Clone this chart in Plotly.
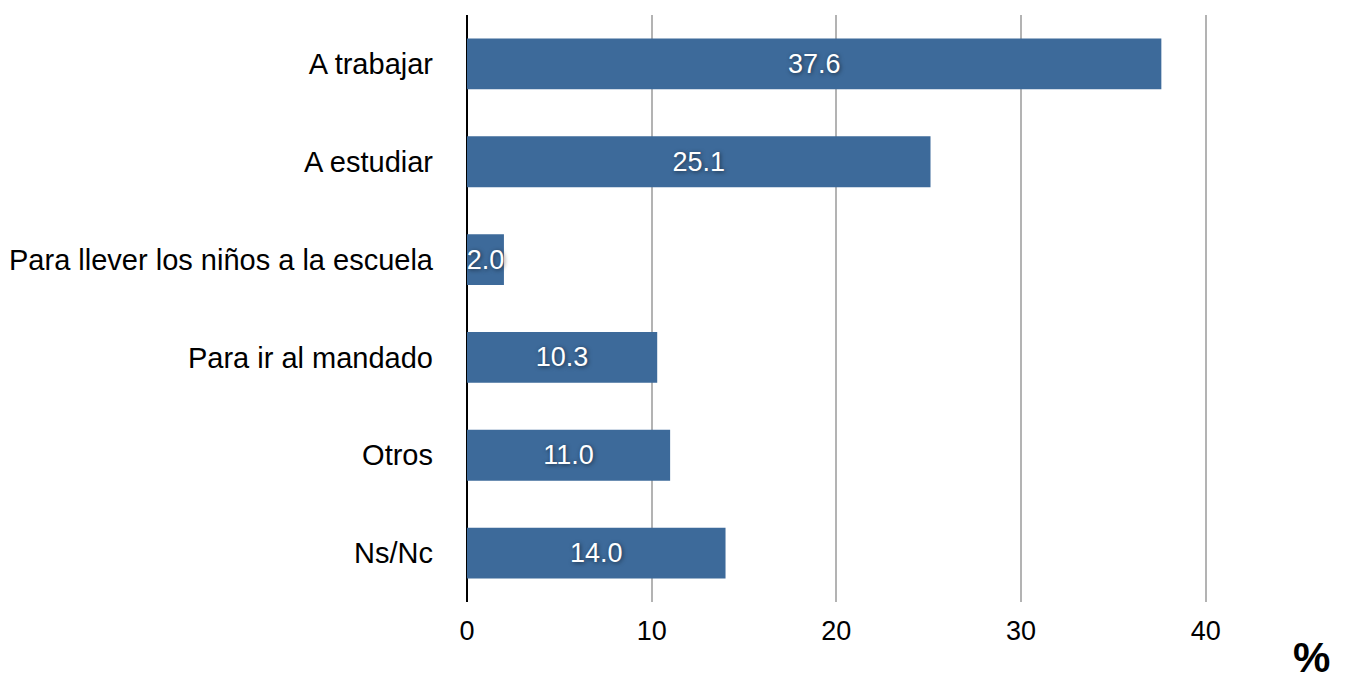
import plotly.graph_objects as go

# Reasons for the trip, top to bottom as shown
categories = ["A trabajar", "A estudiar", "Para llever los niños a la escuela",
              "Para ir al mandado", "Otros", "Ns/Nc"]
values = [37.6, 25.1, 2.0, 10.3, 11.0, 14.0]
x_ticks = [0, 10, 20, 30, 40]

BAR_COLOR = "#3D6A9A"
FONT = "Liberation Sans, Arial, Helvetica, sans-serif"

fig = go.Figure(
    go.Bar(
        x=values,
        y=categories,
        orientation="h",
        marker=dict(color=BAR_COLOR, line=dict(width=0)),
        width=0.52,
        text=[f"{v:.1f}" for v in values],
        textposition="inside",
        insidetextanchor="middle",
        textangle=0,
        constraintext="none",
        textfont=dict(color="white", size=27, family=FONT,
                      shadow="1px 1px 4px rgba(0,0,0,0.55)"),
        hoverinfo="skip",
    )
)

fig.update_layout(
    width=1347,
    height=686,
    margin=dict(l=467, r=49, t=15, b=84, autoexpand=False),
    plot_bgcolor="white",
    paper_bgcolor="white",
    showlegend=False,
    font=dict(family=FONT, color="black", size=27),
    bargap=0.48,
)

fig.update_xaxes(
    range=[0, 45],
    tickvals=x_ticks,
    ticktext=[str(t) for t in x_ticks],
    showgrid=True,
    gridcolor="#B3B3B3",
    gridwidth=2,
    zeroline=True,
    zerolinecolor="black",
    zerolinewidth=2,
    showline=False,
    ticks="",
    ticklabelstandoff=10,
    tickfont=dict(size=27),
    automargin=False,
    fixedrange=True,
)

fig.update_yaxes(
    categoryorder="array",
    categoryarray=categories[::-1],
    showgrid=False,
    showline=False,
    ticks="",
    ticklabelstandoff=33,
    tickfont=dict(size=29),
    automargin=False,
    fixedrange=True,
)

# Unit label below the right end of the axis
fig.add_annotation(
    text="<b>%</b>",
    x=(1311 - 467) / (1298 - 467), y=-(657 - 602) / 587,
    xref="paper", yref="paper",
    xanchor="center", yanchor="middle",
    showarrow=False, font=dict(size=42, family=FONT),
)

fig.write_html("out.html")
